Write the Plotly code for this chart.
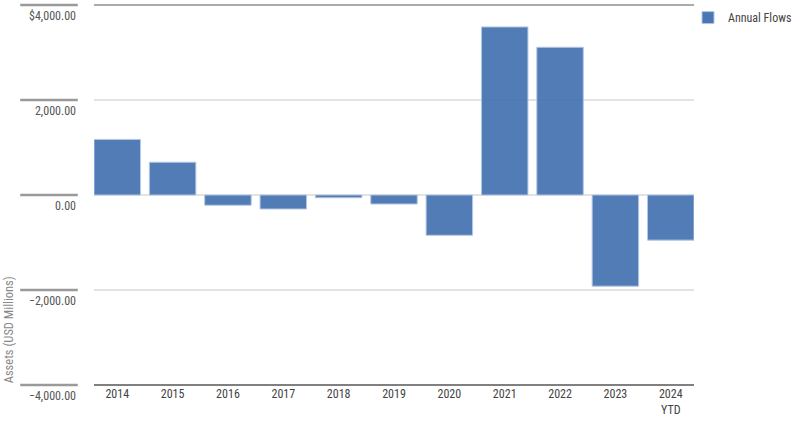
import plotly.graph_objects as go

years = ["2014", "2015", "2016", "2017", "2018", "2019", "2020",
         "2021", "2022", "2023", "2024<br>YTD"]
annual_flows = [1170, 690, -215, -295, -58, -190, -848, 3538, 3110, -1920, -950]

y_ticks = [4000, 2000, 0, -2000, -4000]
y_tick_text = ["$4,000.00", "2,000.00", "0.00", "\u22122,000.00", "\u22124,000.00"]
y_min, y_max = -4000, 4000

FONT = "Roboto Condensed, Liberation Sans Narrow, Roboto, sans-serif"

fig = go.Figure()
fig.add_trace(go.Bar(x=years, y=annual_flows, name="Annual Flows",
                     marker=dict(color="#4a77b4", opacity=0.96,
                                 line=dict(color="#b3c6e2", width=1))))

# short tick strokes left of the labels + darker top/bottom lines
for v in y_ticks:
    yp = (v - y_min) / (y_max - y_min)
    fig.add_shape(type="line", xref="paper", yref="paper",
                  x0=-0.123, x1=-0.027, y0=yp, y1=yp, layer="above",
                  line=dict(color="#9a9a9a", width=2.5))
fig.add_shape(type="line", xref="paper", yref="paper", x0=0, x1=1,
              y0=1, y1=1, line=dict(color="#aaaaaa", width=2))
fig.add_shape(type="line", xref="paper", yref="paper", x0=0, x1=1,
              y0=0, y1=0, line=dict(color="#808080", width=2))

fig.update_layout(
    width=800, height=427,
    margin=dict(l=94, r=106, t=5, b=42, autoexpand=False),
    paper_bgcolor="white", plot_bgcolor="white",
    font=dict(family=FONT, size=12, color="#555555"),
    bargap=0.16,
    showlegend=True,
    legend=dict(x=0.99, y=1.005, xanchor="left", yanchor="top",
                font=dict(family=FONT, size=12, color="#444444"),
                itemwidth=30, bgcolor="rgba(0,0,0,0)"),
    annotations=[dict(text="Assets (USD Millions)", xref="paper", yref="paper",
                      x=-0.142, y=0, xanchor="center", yanchor="bottom",
                      textangle=-90, showarrow=False,
                      font=dict(family=FONT, size=12.5, color="#888888"))],
)
fig.update_xaxes(range=[-0.42, 10.42], showgrid=False, showline=False,
                 ticks="", tickfont=dict(family=FONT, size=12, color="#444444"))
fig.update_yaxes(range=[y_min, y_max], tickvals=y_ticks, ticktext=y_tick_text,
                 showgrid=True, gridcolor="#e3e3e3", gridwidth=1.5,
                 zeroline=True, zerolinecolor="#e3e3e3", zerolinewidth=2,
                 showline=False, ticks="",
                 ticklabelstandoff=17, ticklabelshift=11,
                 tickfont=dict(family=FONT, size=12, color="#555555"))

fig.write_html("out.html", config={"displayModeBar": False},
               post_script="document.body.style.margin='0px';")
